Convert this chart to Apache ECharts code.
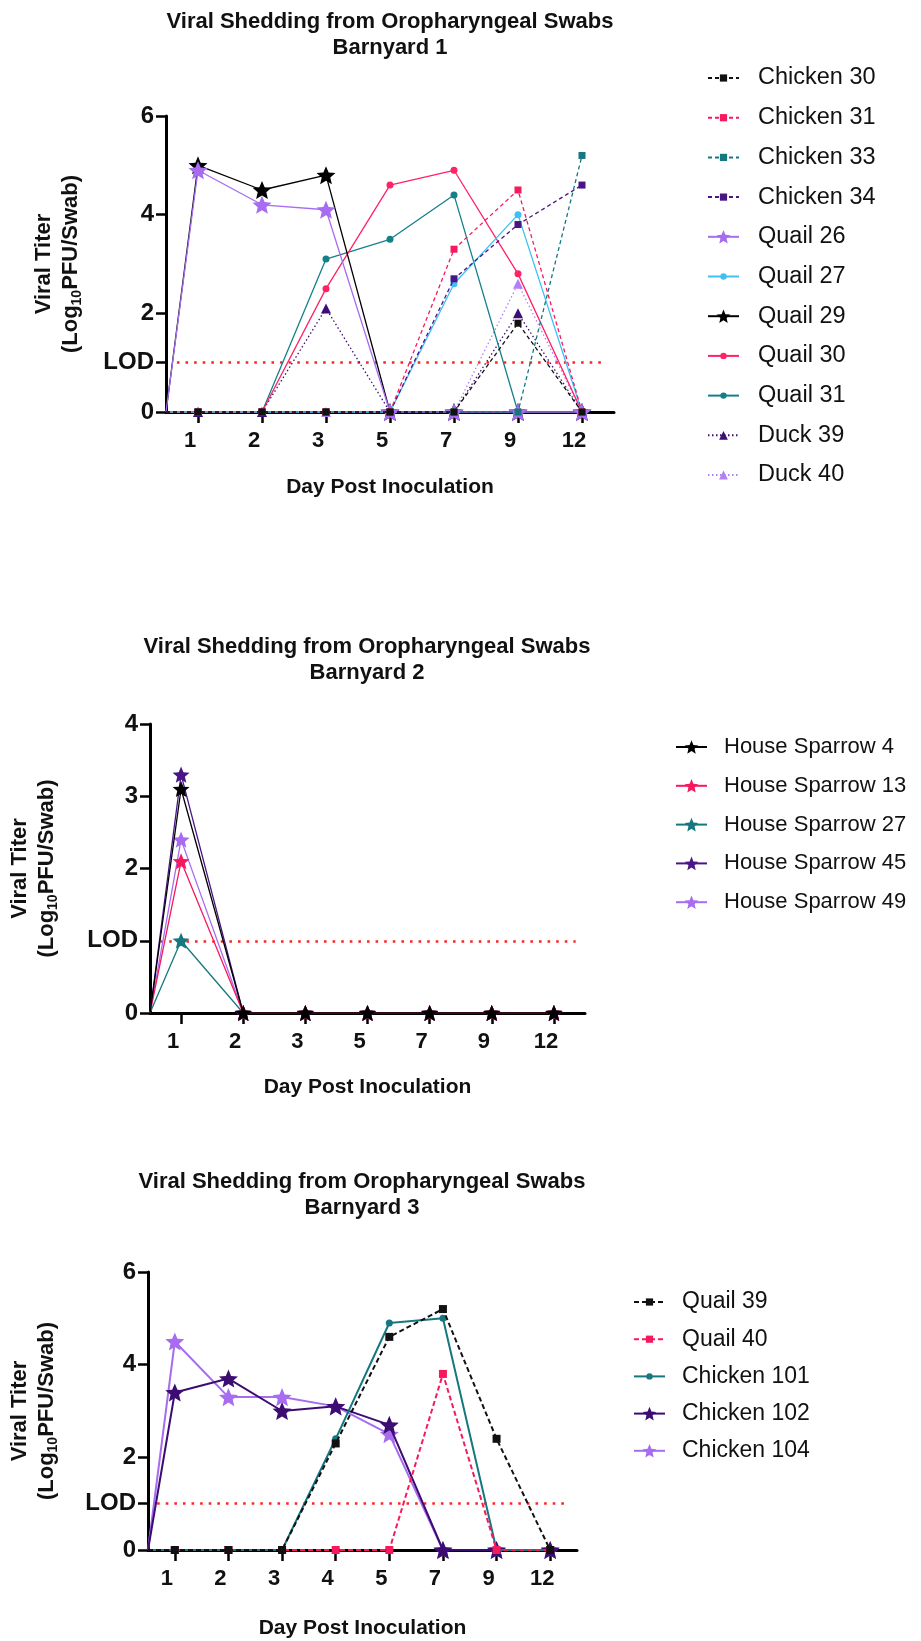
<!DOCTYPE html>
<html>
<head>
<meta charset="utf-8">
<title>Viral Shedding from Oropharyngeal Swabs</title>
<script src="https://cdn.jsdelivr.net/npm/echarts@6/dist/echarts.min.js"></script>
<style>
    html, body { margin: 0; padding: 0; background: #fff; }
    #chart { width: 921px; height: 1641px; }
</style>
</head>
<body>
<div id="chart"></div>
<script>
// ---- 資料 (Log10 PFU/Swab) ----
var LOD = 1;            // limit of detection
var BASELINE = 0;       // titer at day 0, where every line starts on the y axis

// Barnyard 1
var daysBarnyard1 = ['1', '2', '3', '5', '7', '9', '12'];
var yTicksBarnyard1 = [0, 1, 2, 4, 6];
var chicken30 = [0, 0, 0, 0, 0, 1.8, 0];
var chicken31 = [0, 0, 0, 0, 3.3, 4.5, 0];
var chicken33 = [0, 0, 0, 0, 0, 0, 5.2];
var chicken34 = [0, 0, 0, 0, 2.7, 3.8, 4.6];
var quail26 = [4.9, 4.2, 4.1, 0, 0, 0, 0];
var quail27 = [0, 0, 0, 0, 2.6, 4.0, 0];
var quail29 = [5.0, 4.5, 4.8, 0, 0, 0, 0];
var quail30 = [0, 0, 2.5, 4.6, 4.9, 2.8, 0];
var quail31 = [0, 0, 3.1, 3.5, 4.4, 0, 0];
var duck39 = [0, 0, 2.1, 0, 0, 2.0, 0];
var duck40 = [0, 0, 0, 0, 0, 2.6, 0];

// Barnyard 2
var daysBarnyard2 = ['1', '2', '3', '5', '7', '9', '12'];
var yTicksBarnyard2 = [0, 1, 2, 3, 4];
var sparrow4 = [3.1, 0, 0, 0, 0, 0, 0];
var sparrow13 = [2.1, 0, 0, 0, 0, 0, 0];
var sparrow27 = [1.0, 0, 0, 0, 0, 0, 0];
var sparrow45 = [3.3, 0, 0, 0, 0, 0, 0];
var sparrow49 = [2.4, 0, 0, 0, 0, 0, 0];

// Barnyard 3
var daysBarnyard3 = ['1', '2', '3', '4', '5', '7', '9', '12'];
var yTicksBarnyard3 = [0, 1, 2, 4, 6];
var quail39 = [0, 0, 0, 2.3, 4.6, 5.2, 2.4, 0];
var quail40 = [0, 0, 0, 0, 0, 3.8, 0, 0];
var chicken101 = [0, 0, 0, 2.4, 4.9, 5.0, 0, 0];
var chicken102 = [3.4, 3.7, 3.0, 3.1, 2.7, 0, 0, 0];
var chicken104 = [4.5, 3.3, 3.3, 3.1, 2.5, 0, 0, 0];

// ---- 樣式 ----
var FONT = '"Liberation Sans", Arial, sans-serif';
var STAR = 'path://M50,0 L63.23,31.8 L97.55,34.55 L71.4,56.95 L79.39,90.45 L50,72.5 L20.61,90.45 L28.6,56.95 L2.45,34.55 L36.77,31.8 Z';
var DASH = [4, 3];
var DOT = [1.5, 2.5];
var X_MIN = 0.5;   // half a band before the first day

// 圖例圖示高度 (ECharts 畫的符號 = 80%)
var LEGEND_ICON = { rect: 9, circle: 8, triangle: 11, star: 17 };

var BLACK = '#111111';
var PINK = '#f7195d';
var TEAL = '#15777f';
var PURPLE = '#4a1585';
var LILAC = '#a76cf0';
var SKY = '#3fc0f5';

var barnyard1Defs = [
    { name: 'Chicken 30', values: chicken30, color: BLACK, line: DASH, symbol: 'rect', size: 7 },
    { name: 'Chicken 31', values: chicken31, color: PINK, line: DASH, symbol: 'rect', size: 7 },
    { name: 'Chicken 33', values: chicken33, color: TEAL, line: DASH, symbol: 'rect', size: 7 },
    { name: 'Chicken 34', values: chicken34, color: PURPLE, line: DASH, symbol: 'rect', size: 7 },
    { name: 'Quail 26', values: quail26, color: LILAC, line: 'solid', symbol: STAR, size: 19 },
    { name: 'Quail 27', values: quail27, color: SKY, line: 'solid', symbol: 'circle', size: 7 },
    { name: 'Quail 29', values: quail29, color: '#000000', line: 'solid', symbol: STAR, size: 19 },
    { name: 'Quail 30', values: quail30, color: '#ff2265', line: 'solid', symbol: 'circle', size: 7 },
    { name: 'Quail 31', values: quail31, color: '#16808a', line: 'solid', symbol: 'circle', size: 7 },
    { name: 'Duck 39', values: duck39, color: '#3e0d75', line: DOT, symbol: 'triangle', size: 10 },
    { name: 'Duck 40', values: duck40, color: '#b280f5', line: DOT, symbol: 'triangle', size: 10 }
];

var barnyard2Defs = [
    { name: 'House Sparrow 4', values: sparrow4, color: '#000000', line: 'solid', symbol: STAR, size: 17 },
    { name: 'House Sparrow 13', values: sparrow13, color: PINK, line: 'solid', symbol: STAR, size: 17 },
    { name: 'House Sparrow 27', values: sparrow27, color: TEAL, line: 'solid', symbol: STAR, size: 17 },
    { name: 'House Sparrow 45', values: sparrow45, color: PURPLE, line: 'solid', symbol: STAR, size: 17 },
    { name: 'House Sparrow 49', values: sparrow49, color: LILAC, line: 'solid', symbol: STAR, size: 17 }
];

var barnyard3Defs = [
    { name: 'Quail 39', values: quail39, color: BLACK, line: [5, 3], symbol: 'rect', size: 8 },
    { name: 'Quail 40', values: quail40, color: PINK, line: [5, 3], symbol: 'rect', size: 8 },
    { name: 'Chicken 101', values: chicken101, color: TEAL, line: 'solid', symbol: 'circle', size: 7 },
    { name: 'Chicken 102', values: chicken102, color: '#3d0c72', line: 'solid', symbol: STAR, size: 19 },
    { name: 'Chicken 104', values: chicken104, color: LILAC, line: 'solid', symbol: STAR, size: 19 }
];

// 每條線從 y 軸 (day 0) 開始
function seriesData(values) {
    var pts = [{ value: [X_MIN, BASELINE], symbol: 'none' }];
    values.forEach(function (v, i) {
        pts.push([i + 1, v]);
    });
    return pts;
}

function buildSeries(defs, gridIndex, lineWidth) {
    return defs.map(function (d, i) {
        return {
            name: d.name,
            type: 'line',
            xAxisIndex: gridIndex,
            yAxisIndex: gridIndex,
            data: seriesData(d.values),
            symbol: d.symbol,
            symbolSize: d.size,
            symbolKeepAspect: true,
            showSymbol: true,
            showAllSymbol: true,
            clip: false,
            z: 10 + defs.length - i,     // first listed drawn on top
            itemStyle: { color: d.color },
            lineStyle: { color: d.color, width: lineWidth, type: d.line },
            emphasis: { disabled: true }
        };
    });
}

// LOD 紅色虛線
function lodSeries(gridIndex, bands) {
    return {
        name: 'LOD',
        type: 'line',
        xAxisIndex: gridIndex,
        yAxisIndex: gridIndex,
        data: [],
        silent: true,
        z: 5,
        markLine: {
            silent: true,
            symbol: ['none', 'none'],
            label: { show: false },
            lineStyle: { color: '#ff2424', width: 2.6, type: [2.6, 6], cap: 'butt' },
            data: [[{ coord: [X_MIN + 0.17, LOD] }, { coord: [bands + 0.5 - 0.15, LOD] }]]
        }
    };
}

function xAxisFor(gridIndex, labels, nameGap) {
    var ticks = labels.map(function (_, i) { return i + 1; });
    return {
        type: 'value',
        gridIndex: gridIndex,
        min: X_MIN,
        max: labels.length + 0.5,
        name: 'Day Post Inoculation',
        nameLocation: 'middle',
        nameGap: nameGap,
        nameTextStyle: { fontSize: 21, fontWeight: 'bold', color: BLACK, fontFamily: FONT },
        axisLine: { onZero: false, lineStyle: { color: '#000', width: 3 } },
        axisTick: { show: true, customValues: ticks, length: 11, lineStyle: { color: '#000', width: 2.5 } },
        axisLabel: {
            customValues: ticks,
            margin: 18,
            fontSize: 22,
            fontWeight: 'bold',
            color: BLACK,
            fontFamily: FONT,
            padding: [0, 16, 0, 0],
            formatter: function (v) { return labels[Math.round(v) - 1]; }
        },
        splitLine: { show: false }
    };
}

function yAxisFor(gridIndex, ticks, nameGap) {
    return {
        type: 'value',
        gridIndex: gridIndex,
        min: 0,
        max: ticks[ticks.length - 1],
        name: '{a|Viral Titer}\n{a|(Log}{s|10}{a|PFU/Swab)}',
        nameLocation: 'middle',
        nameGap: nameGap,
        nameTextStyle: {
            rich: {
                a: { fontSize: 22, fontWeight: 'bold', color: BLACK, fontFamily: FONT, lineHeight: 27 },
                s: { fontSize: 14, fontWeight: 'bold', color: BLACK, fontFamily: FONT, lineHeight: 14, verticalAlign: 'bottom' }
            }
        },
        axisLine: { show: true, onZero: false, lineStyle: { color: '#000', width: 3 } },
        axisTick: { show: true, customValues: ticks, length: 10, lineStyle: { color: '#000', width: 2.5 } },
        axisLabel: {
            customValues: ticks,
            margin: 12,
            fontSize: 24,
            fontWeight: 'bold',
            color: BLACK,
            fontFamily: FONT,
            formatter: function (v) { return v === LOD ? 'LOD' : String(v); }
        },
        splitLine: { show: false }
    };
}

function titleFor(barnyard, centerX, top) {
    return {
        text: 'Viral Shedding from Oropharyngeal Swabs\nBarnyard ' + barnyard,
        left: centerX,
        top: top,
        textAlign: 'center',
        padding: 0,
        textStyle: { fontSize: 22, fontWeight: 'bold', color: BLACK, fontFamily: FONT, lineHeight: 26 }
    };
}

// 一列一個 legend，才能讓星號比方塊大
function legendRows(defs, left, firstCenter, spacing, fontSize, textPad) {
    return defs.map(function (d, i) {
        var key = d.symbol === STAR ? 'star' : d.symbol;
        return {
            orient: 'vertical',
            left: left,
            top: firstCenter - 12 + i * spacing,
            padding: 0,
            itemWidth: 31,
            itemHeight: LEGEND_ICON[key],
            selectedMode: false,
            data: [d.name],
            textStyle: {
                fontSize: fontSize,
                color: BLACK,
                fontFamily: FONT,
                lineHeight: 24,
                padding: [0, 0, 0, textPad]
            }
        };
    });
}

var chart = echarts.init(document.getElementById('chart'));

var option = {
    animation: false,
    backgroundColor: '#ffffff',
    title: [
        titleFor(1, 390, 9),
        titleFor(2, 367, 634),
        titleFor(3, 362, 1169)
    ],
    legend: [].concat(
        legendRows(barnyard1Defs, 707, 78, 39.7, 23.5, 14),
        legendRows(barnyard2Defs, 675, 747, 38.8, 22, 12),
        legendRows(barnyard3Defs, 633, 1302, 37.2, 23, 12)
    ),
    grid: [
        { left: 166, top: 116, width: 448, height: 296 },
        { left: 150, top: 724, width: 435, height: 289 },
        { left: 148, top: 1272, width: 429, height: 278 }
    ],
    xAxis: [
        xAxisFor(0, daysBarnyard1, 65),
        xAxisFor(1, daysBarnyard2, 64),
        xAxisFor(2, daysBarnyard3, 68)
    ],
    yAxis: [
        yAxisFor(0, yTicksBarnyard1, 82),
        yAxisFor(1, yTicksBarnyard2, 90),
        yAxisFor(2, yTicksBarnyard3, 88)
    ],
    series: [].concat(
        [lodSeries(0, daysBarnyard1.length)],
        buildSeries(barnyard1Defs, 0, 1.3),
        [lodSeries(1, daysBarnyard2.length)],
        buildSeries(barnyard2Defs, 1, 1.3),
        [lodSeries(2, daysBarnyard3.length)],
        buildSeries(barnyard3Defs, 2, 2)
    )
};

chart.setOption(option);
</script>
</body>
</html>
